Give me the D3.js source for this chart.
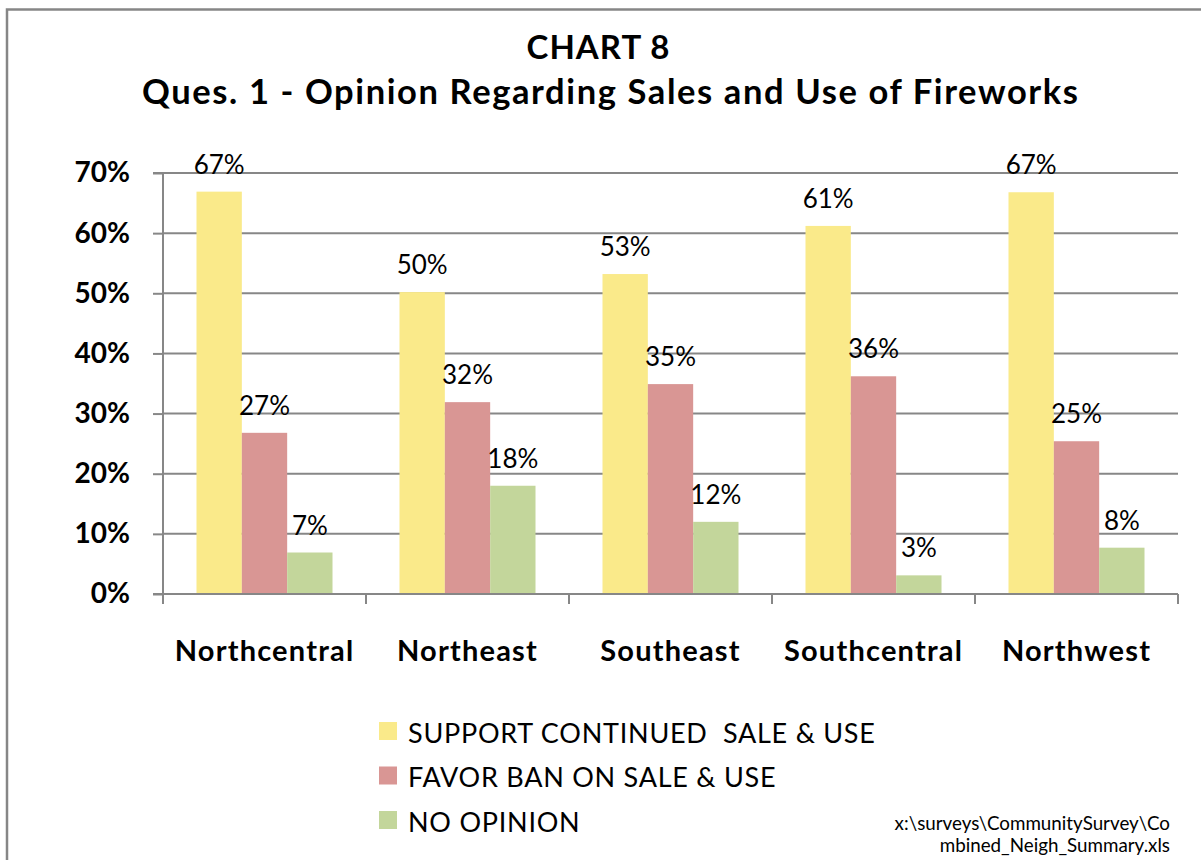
<!DOCTYPE html>
<html>
<head>
<meta charset="utf-8">
<script src="https://cdn.jsdelivr.net/npm/d3@7"></script>
<style>
  html, body { margin: 0; padding: 0; background: #fff; }
  svg { display: block; font-family: Lato, "Open Sans", sans-serif; }
</style>
</head>
<body>
<svg id="chart" width="1201" height="860"></svg>
<script>
const titleLines = ["CHART 8", "Ques. 1 - Opinion Regarding Sales and Use of Fireworks"];
const categories = ["Northcentral", "Northeast", "Southeast", "Southcentral", "Northwest"];
const seriesNames = ["SUPPORT CONTINUED  SALE & USE", "FAVOR BAN ON SALE & USE", "NO OPINION"];
const supportValues = [66.9, 50.2, 53.2, 61.2, 66.8];
const banValues = [26.8, 31.9, 34.9, 36.2, 25.4];
const noOpinionValues = [6.9, 18.0, 12.0, 3.1, 7.7];
const yTicks = [0, 10, 20, 30, 40, 50, 60, 70];
const colors = ["#FAEA8A", "#D99694", "#C3D69B"];
const footnoteLines = ["x:\\surveys\\CommunitySurvey\\Co", "mbined_Neigh_Summary.xls"];

const seriesValues = [supportValues, banValues, noOpinionValues];

const svg = d3.select("#chart");
const plot = { left: 163, right: 1178, top: 173, bottom: 594 };
const gridColor = "#878787";

// outer frame
svg.append("rect")
  .attr("x", 7).attr("y", 9.5)
  .attr("width", 1230).attr("height", 900)
  .attr("fill", "none").attr("stroke", "#868686").attr("stroke-width", 2.5);

// title
svg.append("text").attr("x", 598).attr("y", 59)
  .attr("text-anchor", "middle").attr("font-weight", "bold").attr("font-size", 33)
  .attr("textLength", 143).attr("lengthAdjust", "spacing")
  .text(titleLines[0]);
svg.append("text").attr("x", 610).attr("y", 104)
  .attr("text-anchor", "middle").attr("font-weight", "bold").attr("font-size", 34.5)
  .attr("textLength", 936).attr("lengthAdjust", "spacing")
  .text(titleLines[1]);

const y = d3.scaleLinear().domain([0, 70]).range([plot.bottom, plot.top]);
const x0 = d3.scaleBand().domain(categories).range([plot.left, plot.right]).padding(0);
const catW = x0.bandwidth();
const x1 = d3.scaleBand().domain(d3.range(seriesNames.length))
  .range([catW * 0.165, catW * 0.835]).padding(0);

// gridlines
svg.append("g").selectAll("line").data(yTicks.filter(t => t > 0)).join("line")
  .attr("x1", plot.left).attr("x2", plot.right)
  .attr("y1", d => y(d)).attr("y2", d => y(d))
  .attr("stroke", gridColor).attr("stroke-width", 2);

// y axis
const yAxis = d3.axisLeft(y).tickValues(yTicks).tickFormat(d => d + "%").tickSize(10).tickPadding(23);
const gy = svg.append("g").attr("transform", `translate(${plot.left},0)`).call(yAxis);
gy.select(".domain").attr("stroke", gridColor).attr("stroke-width", 2).attr("d", `M-10,${plot.top}H0V${plot.bottom}`);
gy.selectAll(".tick line").attr("stroke", gridColor).attr("stroke-width", 2);
gy.selectAll(".tick text").attr("font-family", "Lato, sans-serif").attr("font-weight", "bold")
  .attr("font-size", 28).attr("fill", "#000");

// bars
const groups = svg.append("g").selectAll("g").data(categories).join("g")
  .attr("transform", d => `translate(${x0(d)},0)`);
groups.selectAll("rect").data((d, i) => seriesValues.map((vals, s) => ({ s, v: vals[i] }))).join("rect")
  .attr("x", d => x1(d.s)).attr("width", x1.bandwidth())
  .attr("y", d => y(d.v)).attr("height", d => y(0) - y(d.v))
  .attr("fill", d => colors[d.s]);
groups.selectAll("text").data((d, i) => seriesValues.map((vals, s) => ({ s, v: vals[i] }))).join("text")
  .attr("x", d => x1(d.s) + x1.bandwidth() / 2)
  .attr("y", d => y(d.v) - 18)
  .attr("text-anchor", "middle").attr("font-size", 26)
  .text(d => Math.round(d.v) + "%");

// x axis
const xTickPositions = d3.range(categories.length + 1).map(i => plot.left + i * catW);
const gx = svg.append("g");
gx.append("line").attr("x1", plot.left - 10).attr("x2", plot.right)
  .attr("y1", plot.bottom).attr("y2", plot.bottom)
  .attr("stroke", gridColor).attr("stroke-width", 2);
gx.selectAll("line.tk").data(xTickPositions).join("line").attr("class", "tk")
  .attr("x1", d => d).attr("x2", d => d)
  .attr("y1", plot.bottom).attr("y2", plot.bottom + 10)
  .attr("stroke", gridColor).attr("stroke-width", 2);
gx.selectAll("text").data(categories).join("text")
  .attr("x", d => x0(d) + catW / 2).attr("y", 661)
  .attr("text-anchor", "middle").attr("font-weight", "bold").attr("font-size", 29)
  .attr("letter-spacing", 1.2)
  .text(d => d);

// legend
const legend = svg.append("g").selectAll("g").data(seriesNames).join("g")
  .attr("transform", (d, i) => `translate(379,${722 + i * 44.5})`);
legend.append("rect").attr("width", 18).attr("height", 18).attr("fill", (d, i) => colors[i]);
legend.append("text").attr("x", 29).attr("y", 20.5).attr("font-size", 27)
  .attr("letter-spacing", 0.75)
  .style("white-space", "pre")
  .text(d => d);

// footnote
svg.append("g").selectAll("text").data(footnoteLines).join("text")
  .attr("x", 1170).attr("y", (d, i) => 830 + i * 22)
  .attr("text-anchor", "end").attr("font-size", 18.8)
  .text(d => d);
</script>
</body>
</html>
